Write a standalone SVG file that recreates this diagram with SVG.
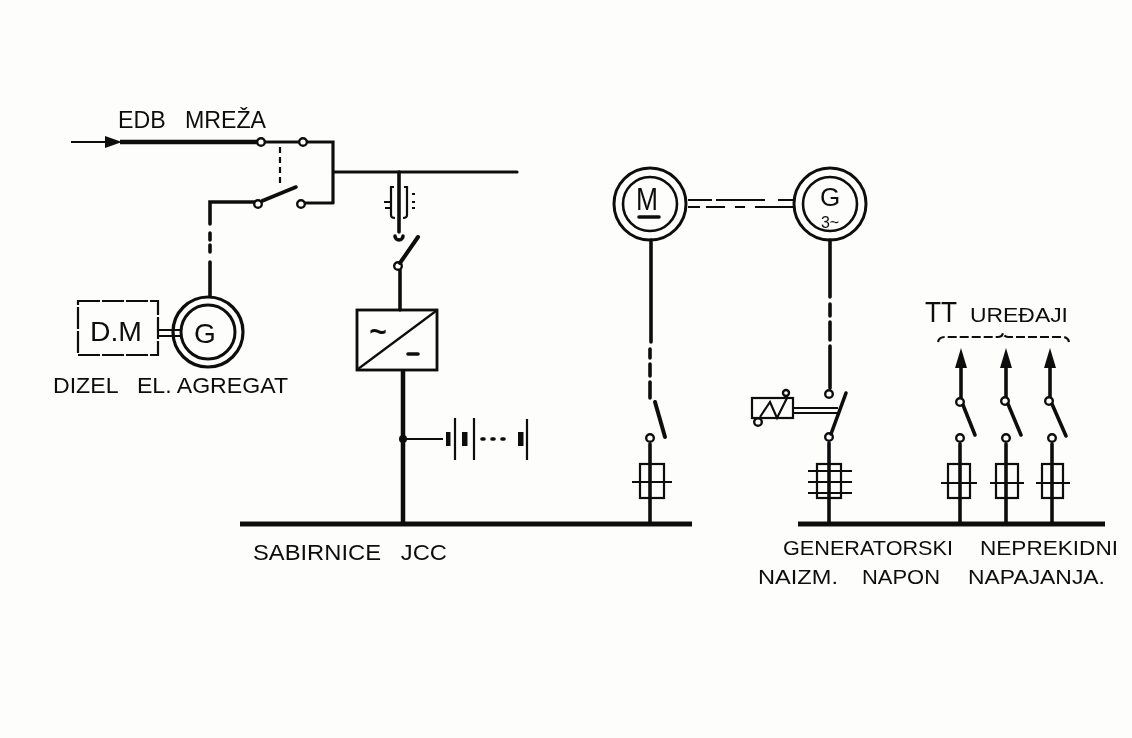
<svg xmlns="http://www.w3.org/2000/svg" width="1132" height="738" viewBox="0 0 1132 738">
<style>
.w{fill:none;stroke:#111;stroke-width:3.6;stroke-linecap:round;stroke-linejoin:miter}
.b{fill:none;stroke:#111;stroke-width:5;stroke-linecap:butt}
.t{fill:none;stroke:#111;stroke-width:2.2}
.o{fill:#fff;stroke:#111;stroke-width:2.4}
.k{fill:#111;stroke:none}
text{font-family:"Liberation Sans",Arial,sans-serif;fill:#111;font-size:22px}
</style>
<defs>
<filter id="soft" x="-5%" y="-5%" width="110%" height="110%"><feGaussianBlur stdDeviation="0.6"/></filter>
</defs>
<rect width="1132" height="738" fill="#fdfdfc"/>
<g filter="url(#soft)">
<g id="connectors">
<path class="t" d="M71 142H115"/>
<path class="k" d="M105 136L122 142L105 148Z"/>
<path class="b" d="M120 142H258" style="stroke-width:4.5"/>
<path class="w" d="M264 142H300M306 142H333V202M333 172H517" style="stroke-width:3.2"/>
<path class="w" d="M304 203H333" style="stroke-width:3.2"/>
<path class="t" d="M280 147V187" stroke-dasharray="6 4"/>
<path class="w" d="M255 202H210V224M210 233V240M210 245V252M210 262V296"/>
<path class="w" d="M399 172V232M400 270V310"/>
<path class="b" d="M403 370V524" style="stroke-width:4.5"/>
<path class="b" d="M240 524H692"/>
<path class="b" d="M798 524H1105"/>
<path class="t" d="M403 439H443"/>
<path class="t" d="M688 200H712M716 200H765M778 200H795M688 207H700M706 207H725M735 207H745M755 207H795"/>
<path class="w" d="M651 240V342M650 349V358M650 364V376M650 382V398M650 444V524"/>
<path class="w" d="M830 240V297M830 304V316M830 322V340M830 346V388M829 443V524"/>
<path class="w" d="M961 398V366M1006 397V366M1050 397V366M960 444V524M1006 444V524M1052 444V524"/>
</g>
<g id="edb-switches">
<circle class="o" cx="261" cy="142" r="3.8"/><circle class="o" cx="303" cy="142" r="3.8"/>
<circle class="o" cx="258" cy="204" r="3.8"/><circle class="o" cx="301" cy="204" r="3.8"/>
<path class="w" d="M262 201L296 187"/>
<text x="118" y="128" xml:space="preserve" textLength="148" lengthAdjust="spacingAndGlyphs" style="font-size:23px">EDB   MREŽA</text>
</g>
<g id="diesel-motor">
<rect class="t" x="78" y="301" width="80" height="54" stroke-dasharray="22 2"/>
<text x="90" y="341" textLength="52" lengthAdjust="spacingAndGlyphs" style="font-size:28px">D.M</text>
<path class="t" d="M158 330H181M158 336H181"/>
</g>
<g id="diesel-generator">
<circle class="t" cx="208" cy="332" r="35" style="stroke-width:3.2"/>
<circle class="t" cx="208" cy="332" r="27" style="stroke-width:3"/>
<text x="205" y="343" text-anchor="middle" style="font-size:28px">G</text>
<text x="53" y="393" xml:space="preserve" textLength="235" lengthAdjust="spacingAndGlyphs">DIZEL   EL. AGREGAT</text>
</g>
<g id="dc-fuse">
<path class="t" d="M394 187H391V215Q391 218 395 218M404 187H407V215Q407 218 403 218"/>
<path class="t" d="M384 202H390M385 208H390M412 194H415M412 202H415M412 208H415"/>
</g>
<g id="rectifier-switch">
<path class="w" d="M395 236A4 4 0 1 0 403 236"/>
<circle class="o" cx="398" cy="266" r="3.8"/>
<path class="w" d="M400 263L418 237" style="stroke-width:4"/>
</g>
<g id="rectifier">
<rect class="t" x="357" y="310" width="80" height="60" style="stroke-width:2.8"/>
<path class="t" d="M358 369L436 311"/>
<text x="378" y="342" text-anchor="middle" style="font-size:30px;font-weight:bold">~</text>
<path class="w" d="M408 354H418"/>
</g>
<g id="battery">
<circle class="k" cx="403" cy="439" r="4"/>
<rect class="k" x="446" y="432" width="4.5" height="14"/>
<path class="t" d="M455 418V460M474 418V460M527 419V460"/>
<rect class="k" x="462" y="432" width="5.5" height="14"/>
<rect class="k" x="518" y="432" width="5.5" height="14"/>
<path class="w" d="M482 439H484M492 439H494M502 439H504"/>
</g>
<g id="motor">
<circle class="t" cx="650" cy="204" r="36" style="stroke-width:3"/>
<circle class="t" cx="650" cy="204" r="27" style="stroke-width:2.6"/>
<text x="647" y="210" text-anchor="middle" textLength="22" lengthAdjust="spacingAndGlyphs" style="font-size:31px">M</text>
<path class="w" d="M639 217H659"/>
</g>
<g id="generator">
<circle class="t" cx="830" cy="204" r="36" style="stroke-width:3"/>
<circle class="t" cx="830" cy="204" r="27" style="stroke-width:2.6"/>
<text x="830" y="206" text-anchor="middle" style="font-size:26px">G</text>
<text x="830" y="228" text-anchor="middle" style="font-size:16px">3~</text>
</g>
<g id="motor-switch">
<path class="w" d="M655 402L665 437" style="stroke-width:4"/>
<circle class="o" cx="650" cy="438" r="3.8"/>
</g>
<g id="motor-fuse">
<rect class="t" x="640" y="464" width="24" height="34"/>
<path class="t" d="M632 482H672"/>
</g>
<g id="generator-breaker">
<circle class="o" cx="829" cy="394" r="3.8"/>
<circle class="o" cx="829" cy="437" r="3.8"/>
<path class="w" d="M831 434L846 393"/>
<path class="t" d="M792 408H838M792 413H838"/>
</g>
<g id="breaker-coil">
<rect class="t" x="752" y="398" width="41" height="20"/>
<path class="t" d="M760 417L770 402L777 418L787 398"/>
<circle class="o" cx="786" cy="393" r="3"/>
<circle class="o" cx="758" cy="422" r="3.8"/>
</g>
<g id="generator-fuse">
<rect class="t" x="817" y="464" width="24" height="34"/>
<path class="t" d="M808 471H852M808 482H852M808 493H852"/>
</g>
<g id="tt-branch-1">
<path class="k" d="M961 348L967 368H955Z"/>
<circle class="o" cx="960" cy="402" r="3.8"/>
<circle class="o" cx="960" cy="438" r="3.8"/>
<path class="w" d="M963 405L975 435"/>
<rect class="t" x="948" y="464" width="22" height="34"/>
<path class="t" d="M941 483H977"/>
</g>
<g id="tt-branch-2">
<path class="k" d="M1006 348L1012 368H1000Z"/>
<circle class="o" cx="1005" cy="401" r="3.8"/>
<circle class="o" cx="1006" cy="438" r="3.8"/>
<path class="w" d="M1008 404L1021 435"/>
<rect class="t" x="996" y="464" width="22" height="34"/>
<path class="t" d="M990 483H1024"/>
</g>
<g id="tt-branch-3">
<path class="k" d="M1050 348L1056 368H1044Z"/>
<circle class="o" cx="1049" cy="401" r="3.8"/>
<circle class="o" cx="1052" cy="438" r="3.8"/>
<path class="w" d="M1052 404L1066 436"/>
<rect class="t" x="1042" y="464" width="21" height="34"/>
<path class="t" d="M1036 483H1070"/>
</g>
<g id="tt-label">
<text x="925" y="322" textLength="32" lengthAdjust="spacingAndGlyphs" style="font-size:30px">TT</text>
<text x="970" y="322" textLength="98" lengthAdjust="spacingAndGlyphs" style="font-size:21px">UREĐAJI</text>
<path class="t" d="M938 342Q939 337 945 337H998Q1002 337 1003 333Q1004 337 1008 337H1062Q1068 337 1069 342" stroke-dasharray="9 3"/>
</g>
<g id="labels">
<text x="253" y="560" xml:space="preserve" textLength="194" lengthAdjust="spacingAndGlyphs">SABIRNICE   JCC</text>
<text x="783" y="555" textLength="170" lengthAdjust="spacingAndGlyphs" style="font-size:21px">GENERATORSKI</text>
<text x="980" y="555" textLength="138" lengthAdjust="spacingAndGlyphs" style="font-size:21px">NEPREKIDNI</text>
<text x="758" y="584" textLength="80" lengthAdjust="spacingAndGlyphs" style="font-size:21px">NAIZM.</text>
<text x="862" y="584" textLength="78" lengthAdjust="spacingAndGlyphs" style="font-size:21px">NAPON</text>
<text x="968" y="584" textLength="137" lengthAdjust="spacingAndGlyphs" style="font-size:21px">NAPAJANJA.</text>
</g>
</g>
</svg>
